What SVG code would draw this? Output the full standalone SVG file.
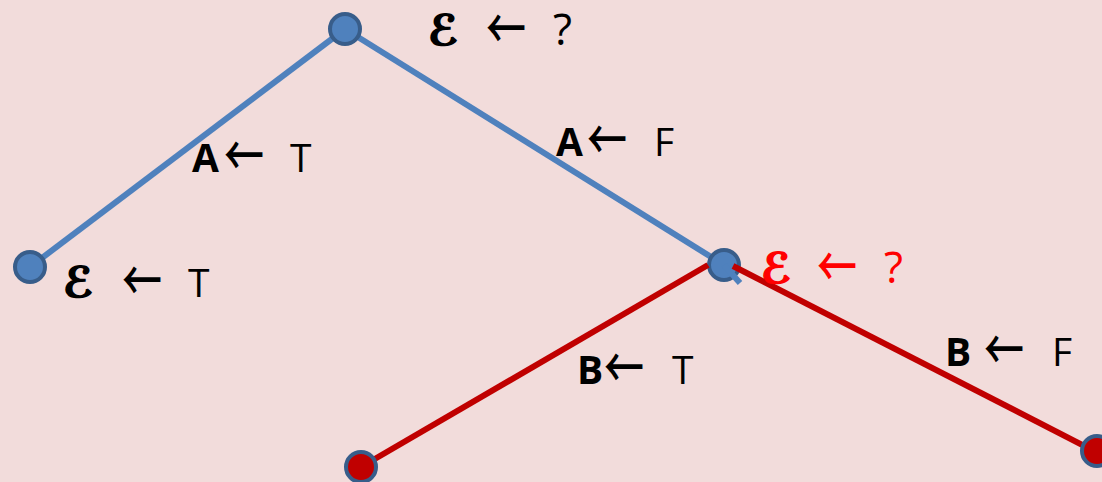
<svg xmlns="http://www.w3.org/2000/svg" width="1102" height="482" viewBox="0 0 1102 482">
<style>
.bg{fill:#f2dcdb}
.eb{stroke:#4f81bd;stroke-width:6;fill:none}
.er{stroke:#c00000;stroke-width:6;fill:none}
.nb{fill:#4f81bd;stroke:#385d8a;stroke-width:4}
.nr{fill:#c00000;stroke:#385d8a;stroke-width:4}
.t{font-family:"Open Sans","Liberation Sans",sans-serif;font-size:39px;fill:#000}
.q{font-size:44px}
.b{font-weight:bold}
.a{font-family:"Noto Sans CJK SC",sans-serif;font-size:40px;font-weight:500}
.s{font-family:"DejaVu Sans",serif;font-style:italic;font-weight:bold;font-size:42px;stroke:#000;stroke-width:1.5}
.r{fill:#ff0000}
.s.r{stroke:#ff0000}
</style>
<rect class="bg" x="0" y="0" width="1102" height="482"/>
<g id="connectors">
<line class="eb" x1="345" y1="29" x2="30" y2="267"/>
<line class="eb" x1="345" y1="29" x2="724" y2="265"/>
</g>
<g id="n-top"><circle class="nb" cx="345" cy="29" r="15"/></g>
<g id="n-left"><circle class="nb" cx="30" cy="267" r="15"/></g>
<g id="n-mid"><circle class="nb" cx="724" cy="265" r="15"/></g>
<g id="connectors-red">
<line class="eb" x1="724" y1="265" x2="740" y2="283"/>
<line class="er" x1="361" y1="467" x2="708" y2="265"/>
<line class="er" x1="733" y1="266" x2="1102" y2="455"/>
</g>
<g id="n-bottom"><circle class="nr" cx="361" cy="467" r="15"/></g>
<g id="n-right"><circle class="nr" cx="1097" cy="451" r="15"/></g>
<g id="labels">
<text class="t s" x="428" y="45">ℰ</text><text class="t a" transform="translate(486,29) scale(1,1.4)" x="0" y="14">←</text><text class="t q" x="553" y="45">?</text>
<text class="t s" x="63" y="297">ℰ</text><text class="t a" transform="translate(122,281) scale(1,1.4)" x="0" y="14">←</text><text class="t" x="188" y="297">T</text>
<text class="t s r" x="761" y="283">ℰ</text><text class="t a r" transform="translate(817,267) scale(1,1.4)" x="0" y="14">←</text><text class="t q r" x="884" y="283">?</text>
<text class="t b" x="192" y="172">A</text><text class="t a" transform="translate(224,156) scale(1,1.4)" x="0" y="14">←</text><text class="t" x="290" y="172">T</text>
<text class="t b" x="556" y="156">A</text><text class="t a" transform="translate(587,140) scale(1,1.4)" x="0" y="14">←</text><text class="t" x="654" y="156">F</text>
<text class="t b" x="577" y="384">B</text><text class="t a" transform="translate(604,368) scale(1,1.4)" x="0" y="14">←</text><text class="t" x="672" y="384">T</text>
<text class="t b" x="945" y="366">B</text><text class="t a" transform="translate(984,350) scale(1,1.4)" x="0" y="14">←</text><text class="t" x="1052" y="366">F</text>
</g>
</svg>
